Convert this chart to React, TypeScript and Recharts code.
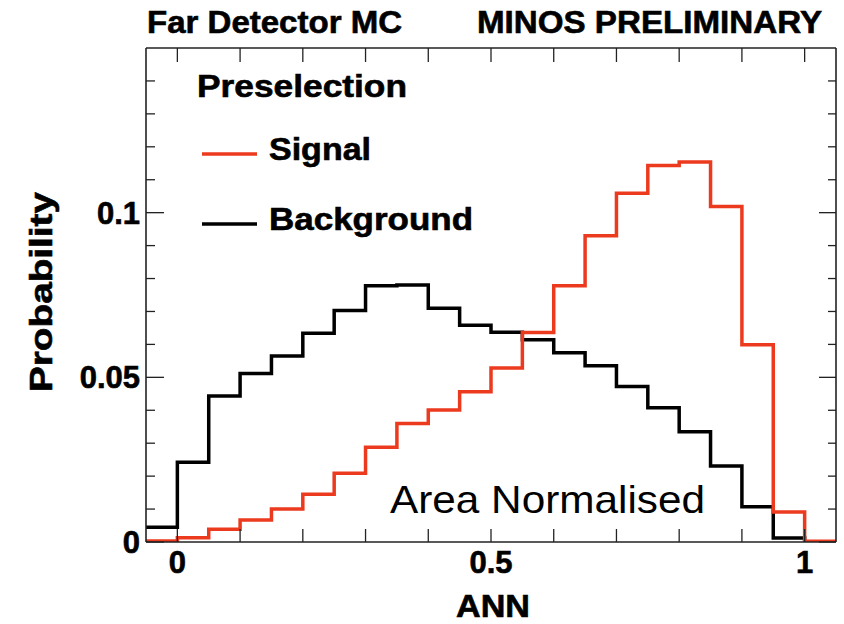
import React from "react";
import { LineChart, Line, XAxis, YAxis } from "recharts";

// bin lower edges, plus the closing edge at 1.05
const annEdges = [
  -0.05, 0, 0.05, 0.1, 0.15, 0.2, 0.25, 0.3, 0.35, 0.4, 0.45, 0.5, 0.55, 0.6,
  0.65, 0.7, 0.75, 0.8, 0.85, 0.9, 0.95, 1.0, 1.05,
];

const signal = [
  0.0003, 0.0013, 0.0039, 0.0067, 0.01, 0.0145, 0.0209, 0.0288, 0.036, 0.0401,
  0.0456, 0.0528, 0.0636, 0.0778, 0.093, 0.1059, 0.1143, 0.1154, 0.1019,
  0.0599, 0.0091, 0.0002,
];

const background = [
  0.0045, 0.0242, 0.0443, 0.0512, 0.0565, 0.0634, 0.0703, 0.0778, 0.078,
  0.071, 0.0658, 0.0637, 0.0614, 0.0575, 0.0535, 0.0472, 0.0408, 0.0335,
  0.0231, 0.0107, 0.0012, 0.0,
];

const xTicks = [0, 0.1, 0.2, 0.3, 0.4, 0.5, 0.6, 0.7, 0.8, 0.9, 1.0];
const xLabels = ["0", "0.5", "1"];
const yTicks = [
  0, 0.01, 0.02, 0.03, 0.04, 0.05, 0.06, 0.07, 0.08, 0.09, 0.1, 0.11, 0.12,
  0.13, 0.14,
];
const yLabels = ["0", "0.05", "0.1"];

const RED = "#ec3a1f";
const FRAME = "#222";
const FONT = "'Liberation Sans', Arial, Helvetica, sans-serif";

const data = annEdges.map((ann, i) => ({
  ann,
  signal: signal[Math.min(i, signal.length - 1)],
  background: background[Math.min(i, background.length - 1)],
}));

const fmt = (v: number) => String(Number(v.toFixed(3)));
const isYMajor = (v: number) => yLabels.includes(fmt(v));

// bold text a touch heavier, like the original's Helvetica
const heavy = { fontWeight: "bold", stroke: "#000", strokeWidth: 0.6 } as const;

const BottomTick = ({ x, y, payload }: any) => {
  const lbl = fmt(payload.value);
  return (
    <g>
      <line x1={x} x2={x} y1={y} y2={y - 13} stroke={FRAME} strokeWidth={1.3} />
      {xLabels.includes(lbl) && (
        <text x={x} y={y + 31} textAnchor="middle" fontSize={31} fontFamily={FONT} fill="#000" {...heavy}>
          {lbl}
        </text>
      )}
    </g>
  );
};

const TopTick = ({ x, y }: any) => (
  <line x1={x} x2={x} y1={y} y2={y + 14} stroke={FRAME} strokeWidth={1.3} />
);

const LeftTick = ({ x, y, payload }: any) => {
  const major = isYMajor(payload.value);
  const lbl = fmt(payload.value);
  return (
    <g>
      <line x1={x} x2={x + (major ? 18 : 9)} y1={y} y2={y} stroke={FRAME} strokeWidth={1.3} />
      {major && (
        <text x={x - 6} y={y + 11} textAnchor="end" fontSize={31} fontFamily={FONT} fill="#000" {...heavy}>
          {lbl}
        </text>
      )}
    </g>
  );
};

const RightTick = ({ x, y, payload }: any) => {
  const major = isYMajor(payload.value);
  return <line x1={x} x2={x - (major ? 17 : 8)} y1={y} y2={y} stroke={FRAME} strokeWidth={1.3} />;
};

export default function App() {
  const axisLine = { stroke: FRAME, strokeWidth: 1.6 };
  return (
    <div style={{ position: "absolute", left: 0, top: 0, width: 844, height: 624, background: "#fff" }}>
      <LineChart
        width={844}
        height={624}
        data={data}
        margin={{ top: 47, right: 7, bottom: 81, left: 145 }}
      >
        <XAxis
          xAxisId="bottom"
          dataKey="ann"
          type="number"
          domain={[-0.05, 1.05]}
          allowDataOverflow
          ticks={xTicks}
          interval={0}
          height={1}
          tickSize={0}
          tickMargin={0}
          axisLine={axisLine}
          tick={(p: any) => <BottomTick {...p} />}
        />
        <XAxis
          xAxisId="top"
          orientation="top"
          dataKey="ann"
          type="number"
          domain={[-0.05, 1.05]}
          allowDataOverflow
          ticks={xTicks}
          interval={0}
          height={1}
          tickSize={0}
          tickMargin={0}
          axisLine={axisLine}
          tick={(p: any) => <TopTick {...p} />}
        />
        <YAxis
          yAxisId="left"
          type="number"
          domain={[0, 0.15]}
          allowDataOverflow
          ticks={yTicks}
          interval={0}
          width={1}
          tickSize={0}
          tickMargin={0}
          axisLine={axisLine}
          tick={(p: any) => <LeftTick {...p} />}
        />
        <YAxis
          yAxisId="right"
          orientation="right"
          type="number"
          domain={[0, 0.15]}
          allowDataOverflow
          ticks={yTicks}
          interval={0}
          width={1}
          tickSize={0}
          tickMargin={0}
          axisLine={axisLine}
          tick={(p: any) => <RightTick {...p} />}
        />
        <Line
          xAxisId="bottom"
          yAxisId="left"
          type="stepAfter"
          dataKey="background"
          stroke="#000"
          strokeWidth={3.5}
          dot={false}
          activeDot={false}
          isAnimationActive={false}
        />
        <Line
          xAxisId="bottom"
          yAxisId="left"
          type="stepAfter"
          dataKey="signal"
          stroke={RED}
          strokeWidth={3.5}
          dot={false}
          activeDot={false}
          isAnimationActive={false}
        />
      </LineChart>
      <svg
        width={844}
        height={624}
        style={{ position: "absolute", left: 0, top: 0, pointerEvents: "none" }}
        fontFamily={FONT}
      >
        <text x={147} y={33} fontSize={31} {...heavy} textLength={255} lengthAdjust="spacingAndGlyphs">
          Far Detector MC
        </text>
        <text x={477} y={33} fontSize={31} {...heavy} textLength={345} lengthAdjust="spacingAndGlyphs">
          MINOS PRELIMINARY
        </text>
        <text x={197} y={97} fontSize={31} {...heavy} textLength={210} lengthAdjust="spacingAndGlyphs">
          Preselection
        </text>
        <line x1={202} x2={257} y1={154} y2={154} stroke={RED} strokeWidth={3.5} />
        <text x={269} y={160} fontSize={31} {...heavy} textLength={102} lengthAdjust="spacingAndGlyphs">
          Signal
        </text>
        <line x1={202} x2={257} y1={224} y2={224} stroke="#000" strokeWidth={3.5} />
        <text x={269} y={230} fontSize={31} {...heavy} textLength={204} lengthAdjust="spacingAndGlyphs">
          Background
        </text>
        <text x={390} y={513} fontSize={39} textLength={315} lengthAdjust="spacingAndGlyphs">
          Area Normalised
        </text>
        <text
          x={52}
          y={292}
          fontSize={31}
          {...heavy}
          textAnchor="middle"
          transform="rotate(-90 52 292)"
          textLength={200}
          lengthAdjust="spacingAndGlyphs"
        >
          Probability
        </text>
        <text x={493} y={617} fontSize={31} {...heavy} textAnchor="middle" textLength={74} lengthAdjust="spacingAndGlyphs">
          ANN
        </text>
      </svg>
    </div>
  );
}
